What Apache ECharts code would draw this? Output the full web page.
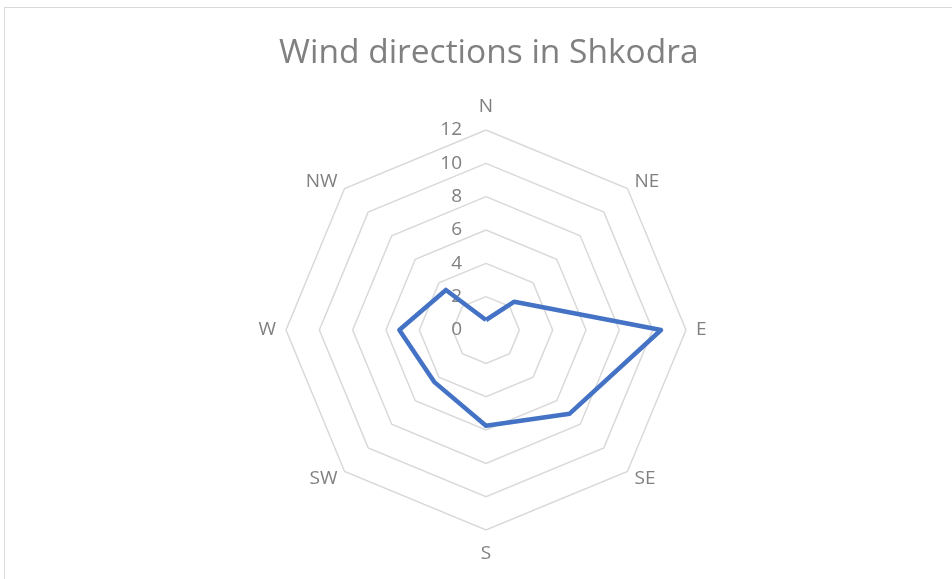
<!DOCTYPE html>
<html>
<head>
<meta charset="utf-8">
<script src="https://cdn.jsdelivr.net/npm/echarts@6/dist/echarts.min.js"></script>
<style>
  html, body { margin: 0; padding: 0; background: #fff; overflow: hidden; }
  #frame {
    position: absolute; left: 4px; top: 7px; width: 960px; height: 590px;
    border: 1px solid #d9d9d9; box-sizing: border-box;
  }
  #chart { position: absolute; left: 0; top: 0; width: 952px; height: 579px; }
</style>
</head>
<body>
<div id="frame"></div>
<div id="chart"></div>
<script>
// clockwise from north
const directions = ["N", "NE", "E", "SE", "S", "SW", "W", "NW"];
const windValues = [0.6, 2.4, 10.5, 7.1, 5.75, 4.4, 5.2, 3.4];
const maxValue = 12;

// echarts radar runs counterclockwise, so walk the list backwards after N
const order = directions.map((_, i) => (directions.length - i) % directions.length);

const chart = echarts.init(document.getElementById("chart"));
const option = {
  animation: false,
  title: {
    text: "Wind directions in Shkodra",
    left: 274,
    top: 31,
    textStyle: { color: "#808080", fontSize: 33.5, fontWeight: "normal", fontFamily: "Open Sans" }
  },
  radar: {
    center: [486, 330],
    radius: 200,
    startAngle: 90,
    shape: "polygon",
    splitNumber: 6,
    axisName: { color: "#808080", fontSize: 19, fontFamily: "Open Sans", lineHeight: 27 },
    nameGap: 10,
    axisLine: { show: false },
    axisTick: { show: false },
    axisLabel: { show: false },
    splitArea: { show: false },
    splitLine: { lineStyle: { color: "#d9d9d9", width: 1.5 } },
    indicator: order.map((k, i) => {
      const ind = { name: directions[k], min: 0, max: maxValue };
      if (i === 0) {
        ind.axisLabel = {
          show: true, color: "#808080", fontSize: 19, fontFamily: "Open Sans",
          margin: 24, showMinLabel: true, showMaxLabel: true
        };
      }
      return ind;
    })
  },
  series: [{
    type: "radar",
    symbol: "none",
    lineStyle: { color: "#4472c4", width: 4.5 },
    data: [{ value: order.map(k => windValues[k]), name: "Wind" }]
  }]
};
chart.setOption(option);
</script>
</body>
</html>
